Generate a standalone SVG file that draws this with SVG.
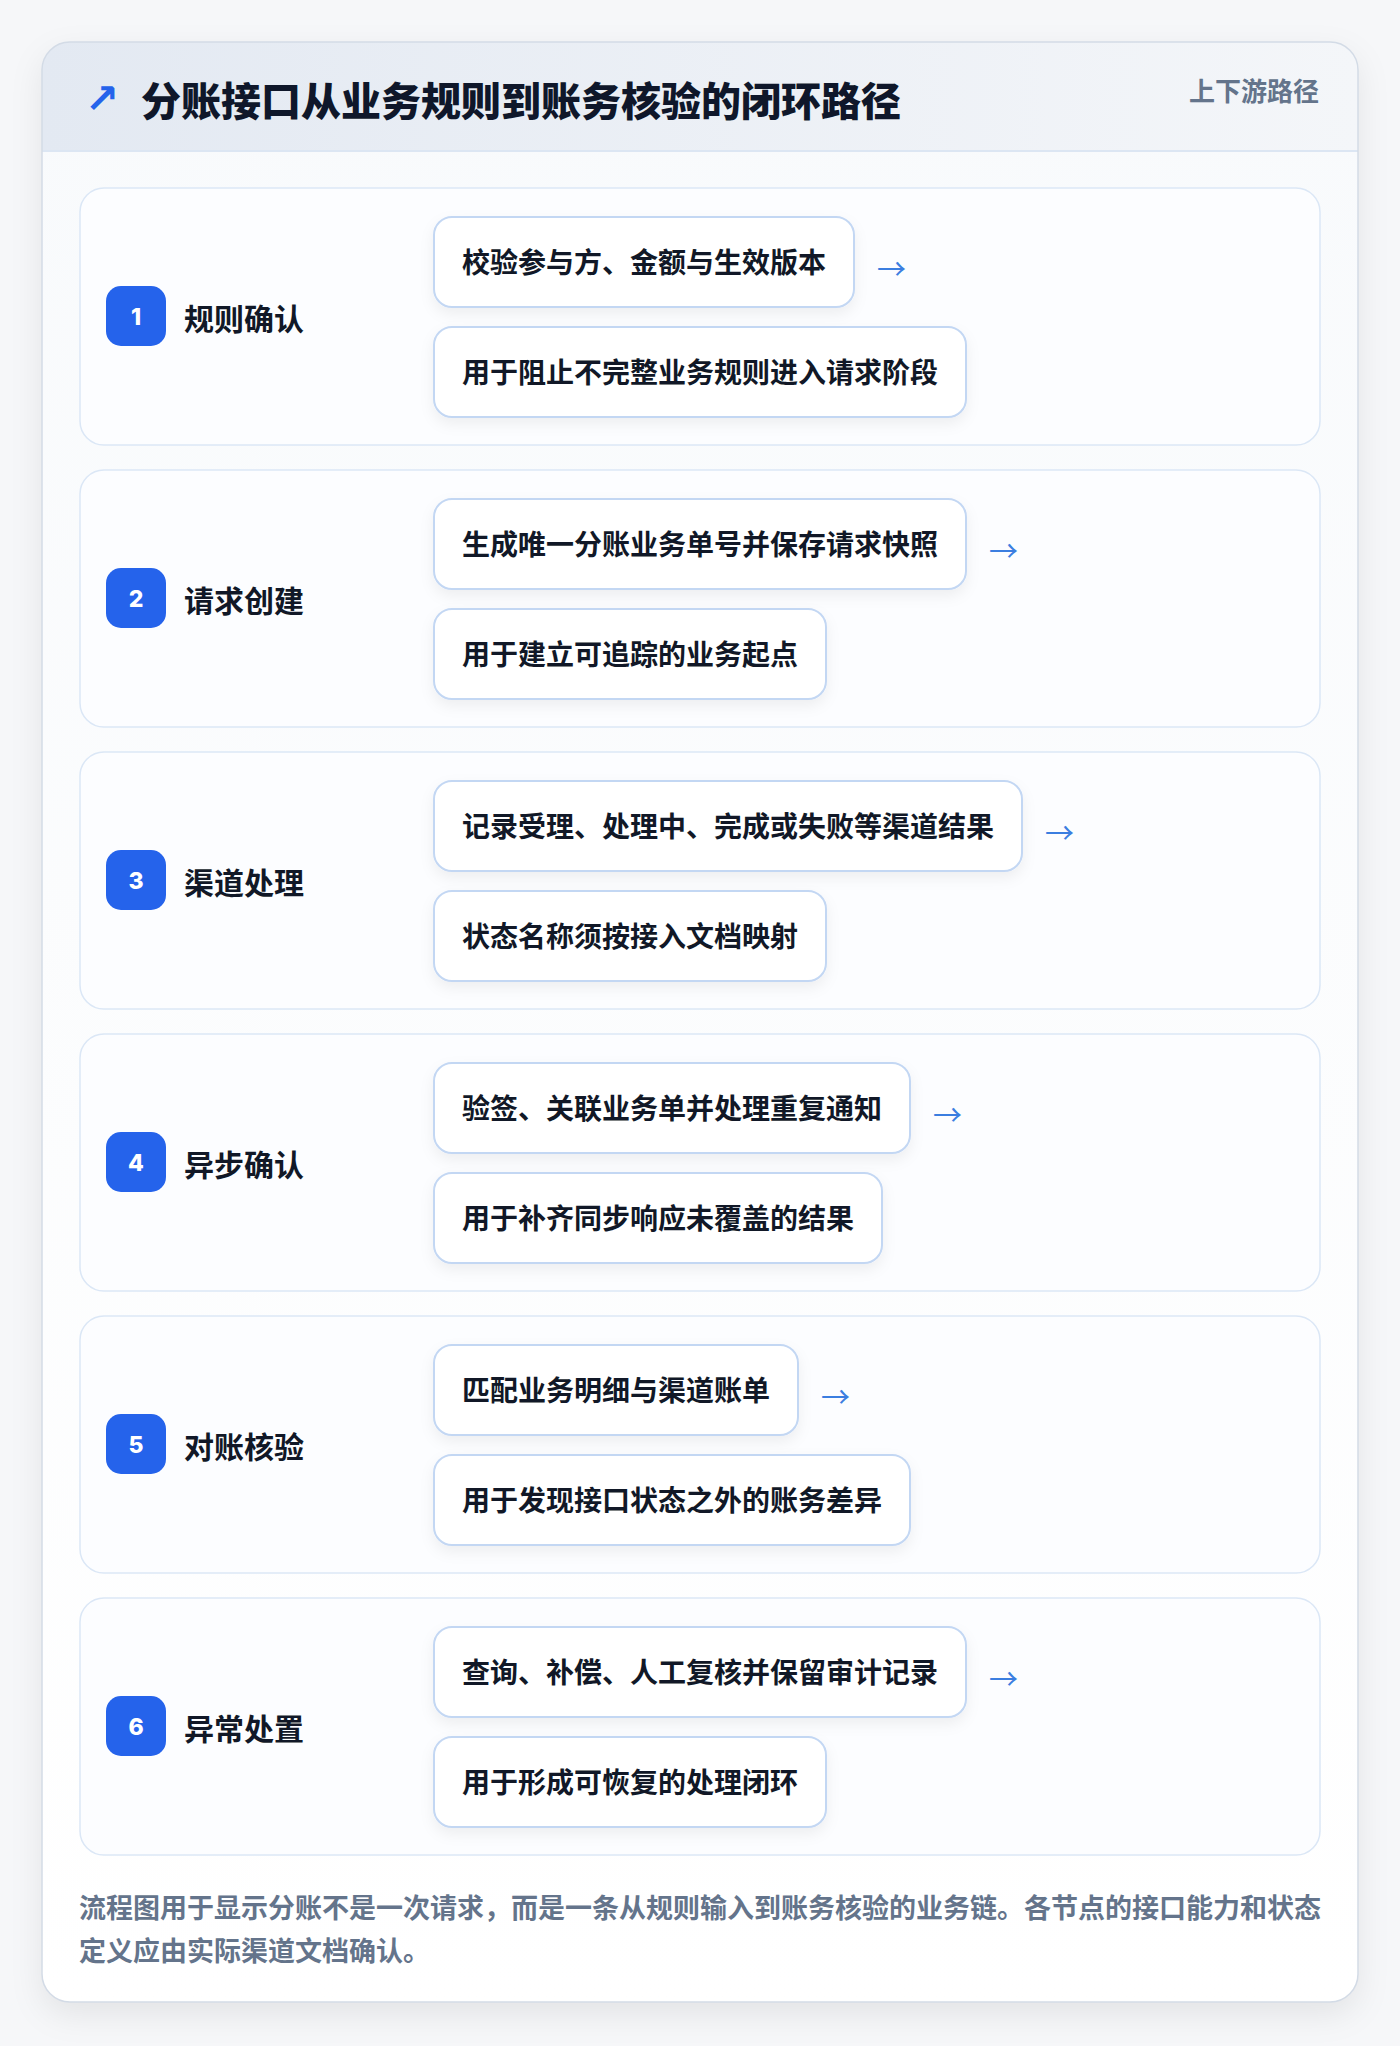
<svg xmlns="http://www.w3.org/2000/svg" width="1400" height="2046" viewBox="0 0 1400 2046">
  <defs>
    <style>
      .cjk { font-family: "Noto Sans CJK SC", "Noto Sans", "Liberation Sans", sans-serif; font-weight: 700; }
      .title { font-size: 40px; fill: #0f172a; font-weight: 900; }
      .tag { font-size: 26px; fill: #64748b; }
      .card { fill: #fcfdff; stroke: #dbe7f6; stroke-width: 1.5; }
      .badge { fill: #2563eb; }
      .num { font-family: "Inter", "Noto Sans", "Liberation Sans", sans-serif; font-weight: 800; font-size: 23px; fill: #ffffff; }
      .label { font-size: 30px; fill: #111827; }
      .box { fill: #ffffff; stroke: #c3d7f3; stroke-width: 2; }
      .btxt { font-size: 28px; fill: #111827; }
      .arrow { font-family: "Noto Sans CJK SC", "DejaVu Sans", sans-serif; font-size: 29px; fill: #3b7ee0; }
      .icon { font-family: "DejaVu Sans", sans-serif; font-weight: 700; font-size: 41px; fill: #2563eb; }
      .foot { font-size: 27px; fill: #64748b; }
    </style>
    <linearGradient id="hdr" x1="0" y1="0" x2="1" y2="0">
      <stop offset="0" stop-color="#e3e9f2"/>
      <stop offset="1" stop-color="#f4f6f9"/>
    </linearGradient>
    <linearGradient id="body" x1="0" y1="0" x2="0" y2="1">
      <stop offset="0" stop-color="#f8fafc"/>
      <stop offset="1" stop-color="#ffffff"/>
    </linearGradient>
    <clipPath id="cardclip">
      <rect x="42" y="42" width="1316" height="1960" rx="28"/>
    </clipPath>
    <filter id="mainShadow" x="-10%" y="-10%" width="120%" height="120%">
      <feDropShadow dx="0" dy="12" stdDeviation="16" flood-color="#0f172a" flood-opacity="0.08"/>
    </filter>
    <filter id="boxShadow" x="-10%" y="-20%" width="120%" height="160%">
      <feDropShadow dx="0" dy="6" stdDeviation="7" flood-color="#0f172a" flood-opacity="0.06"/>
    </filter>
  </defs>

  <rect x="0" y="0" width="1400" height="2046" fill="#f6f7f9"/>

  <g id="main-card">
    <rect x="42" y="42" width="1316" height="1960" rx="28" fill="url(#body)" filter="url(#mainShadow)"/>
    <g clip-path="url(#cardclip)">
      <rect x="42" y="42" width="1316" height="109" fill="url(#hdr)"/>
      <line x1="42" y1="151" x2="1358" y2="151" stroke="#dce6f3" stroke-width="2"/>
    </g>
    <rect x="42" y="42" width="1316" height="1960" rx="28" fill="none" stroke="#d3dbe6" stroke-width="1.5"/>
  </g>

  <g id="header">
    <text class="icon" x="85" y="99" dominant-baseline="central">↗</text>
    <text class="cjk title" x="141" y="99" dominant-baseline="central">分账接口从业务规则到账务核验的闭环路径</text>
    <text class="cjk tag" x="1319" y="89" text-anchor="end" dominant-baseline="central">上下游路径</text>
  </g>

  <g id="step-1">
    <rect class="card" x="80" y="188" width="1240" height="257" rx="24"/>
    <rect class="badge" x="106" y="286" width="60" height="60" rx="15"/>
    <text class="num" x="136" y="317" text-anchor="middle" dominant-baseline="central">1</text>
    <text class="cjk label" x="184" y="317" dominant-baseline="central">规则确认</text>
    <rect class="box" x="434" y="217" width="420" height="90" rx="18" filter="url(#boxShadow)"/>
    <text class="cjk btxt" x="462" y="261" dominant-baseline="central">校验参与方、金额与生效版本</text>
    <rect class="box" x="434" y="327" width="532" height="90" rx="18" filter="url(#boxShadow)"/>
    <text class="cjk btxt" x="462" y="371" dominant-baseline="central">用于阻止不完整业务规则进入请求阶段</text>
  </g>

  <g id="step-2">
    <rect class="card" x="80" y="470" width="1240" height="257" rx="24"/>
    <rect class="badge" x="106" y="568" width="60" height="60" rx="15"/>
    <text class="num" x="136" y="599" text-anchor="middle" dominant-baseline="central">2</text>
    <text class="cjk label" x="184" y="599" dominant-baseline="central">请求创建</text>
    <rect class="box" x="434" y="499" width="532" height="90" rx="18" filter="url(#boxShadow)"/>
    <text class="cjk btxt" x="462" y="543" dominant-baseline="central">生成唯一分账业务单号并保存请求快照</text>
    <rect class="box" x="434" y="609" width="392" height="90" rx="18" filter="url(#boxShadow)"/>
    <text class="cjk btxt" x="462" y="653" dominant-baseline="central">用于建立可追踪的业务起点</text>
  </g>

  <g id="step-3">
    <rect class="card" x="80" y="752" width="1240" height="257" rx="24"/>
    <rect class="badge" x="106" y="850" width="60" height="60" rx="15"/>
    <text class="num" x="136" y="881" text-anchor="middle" dominant-baseline="central">3</text>
    <text class="cjk label" x="184" y="881" dominant-baseline="central">渠道处理</text>
    <rect class="box" x="434" y="781" width="588" height="90" rx="18" filter="url(#boxShadow)"/>
    <text class="cjk btxt" x="462" y="825" dominant-baseline="central">记录受理、处理中、完成或失败等渠道结果</text>
    <rect class="box" x="434" y="891" width="392" height="90" rx="18" filter="url(#boxShadow)"/>
    <text class="cjk btxt" x="462" y="935" dominant-baseline="central">状态名称须按接入文档映射</text>
  </g>

  <g id="step-4">
    <rect class="card" x="80" y="1034" width="1240" height="257" rx="24"/>
    <rect class="badge" x="106" y="1132" width="60" height="60" rx="15"/>
    <text class="num" x="136" y="1163" text-anchor="middle" dominant-baseline="central">4</text>
    <text class="cjk label" x="184" y="1163" dominant-baseline="central">异步确认</text>
    <rect class="box" x="434" y="1063" width="476" height="90" rx="18" filter="url(#boxShadow)"/>
    <text class="cjk btxt" x="462" y="1107" dominant-baseline="central">验签、关联业务单并处理重复通知</text>
    <rect class="box" x="434" y="1173" width="448" height="90" rx="18" filter="url(#boxShadow)"/>
    <text class="cjk btxt" x="462" y="1217" dominant-baseline="central">用于补齐同步响应未覆盖的结果</text>
  </g>

  <g id="step-5">
    <rect class="card" x="80" y="1316" width="1240" height="257" rx="24"/>
    <rect class="badge" x="106" y="1414" width="60" height="60" rx="15"/>
    <text class="num" x="136" y="1445" text-anchor="middle" dominant-baseline="central">5</text>
    <text class="cjk label" x="184" y="1445" dominant-baseline="central">对账核验</text>
    <rect class="box" x="434" y="1345" width="364" height="90" rx="18" filter="url(#boxShadow)"/>
    <text class="cjk btxt" x="462" y="1389" dominant-baseline="central">匹配业务明细与渠道账单</text>
    <rect class="box" x="434" y="1455" width="476" height="90" rx="18" filter="url(#boxShadow)"/>
    <text class="cjk btxt" x="462" y="1499" dominant-baseline="central">用于发现接口状态之外的账务差异</text>
  </g>

  <g id="step-6">
    <rect class="card" x="80" y="1598" width="1240" height="257" rx="24"/>
    <rect class="badge" x="106" y="1696" width="60" height="60" rx="15"/>
    <text class="num" x="136" y="1727" text-anchor="middle" dominant-baseline="central">6</text>
    <text class="cjk label" x="184" y="1727" dominant-baseline="central">异常处置</text>
    <rect class="box" x="434" y="1627" width="532" height="90" rx="18" filter="url(#boxShadow)"/>
    <text class="cjk btxt" x="462" y="1671" dominant-baseline="central">查询、补偿、人工复核并保留审计记录</text>
    <rect class="box" x="434" y="1737" width="392" height="90" rx="18" filter="url(#boxShadow)"/>
    <text class="cjk btxt" x="462" y="1781" dominant-baseline="central">用于形成可恢复的处理闭环</text>
  </g>

  <g id="connectors">
    <text class="arrow" x="877" y="267" dominant-baseline="central">→</text>
    <text class="arrow" x="989" y="549" dominant-baseline="central">→</text>
    <text class="arrow" x="1045" y="831" dominant-baseline="central">→</text>
    <text class="arrow" x="933" y="1113" dominant-baseline="central">→</text>
    <text class="arrow" x="821" y="1395" dominant-baseline="central">→</text>
    <text class="arrow" x="989" y="1677" dominant-baseline="central">→</text>
  </g>

  <g id="footer">
    <text class="cjk foot" x="79" y="1906" dominant-baseline="central">流程图用于显示分账不是一次请求，而是一条从规则输入到账务核验的业务链。各节点的接口能力和状态</text>
    <text class="cjk foot" x="79" y="1949" dominant-baseline="central">定义应由实际渠道文档确认。</text>
  </g>
</svg>
